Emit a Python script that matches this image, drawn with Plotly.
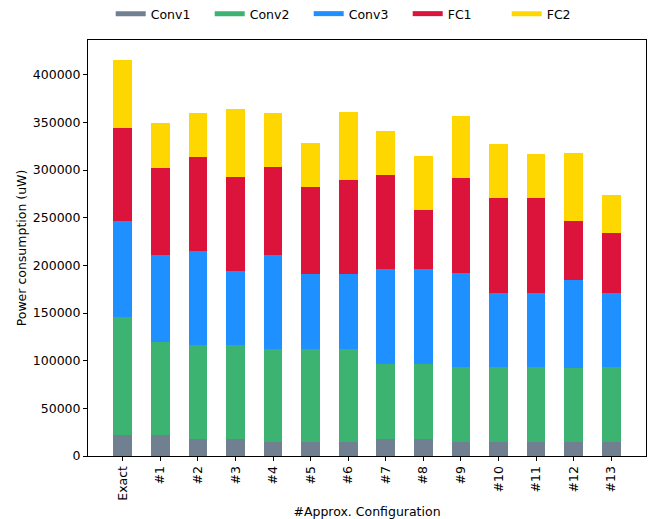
import plotly.graph_objects as go

# configurations on the x axis
configs = ['Exact', '#1', '#2', '#3', '#4', '#5', '#6',
           '#7', '#8', '#9', '#10', '#11', '#12', '#13']

# per-layer power (uW)
conv1 = [22000, 22000, 18000, 18000, 15000, 15000, 15000,
         18000, 18000, 15000, 15000, 15000, 15000, 15000]
conv2 = [124000, 98000, 98000, 98000, 97500, 97500, 97500,
         79000, 79000, 78500, 78500, 78500, 77500, 78500]
conv3 = [100000, 91300, 99300, 78300, 98600, 78600, 78600,
         99300, 99300, 98600, 77700, 77700, 92300, 77700]
fc1 = [98300, 91300, 98600, 98700, 92400, 91400, 98700,
       98700, 61900, 99700, 99600, 99600, 61900, 62900]
fc2 = [71300, 46200, 46200, 71300, 56600, 46100, 71400,
       46100, 56700, 65100, 56700, 46100, 71300, 39900]

layers = ['Conv1', 'Conv2', 'Conv3', 'FC1', 'FC2']
series = [conv1, conv2, conv3, fc1, fc2]

# matplotlib named colours
COLORS = {
    'Conv1': '#708090',
    'Conv2': '#3CB371',
    'Conv3': '#1E90FF',
    'FC1': '#DC143C',
    'FC2': '#FFD700',
}

FONT_SIZE = 12.5

fig = go.Figure()

for name, vals in zip(layers, series):
    fig.add_trace(go.Bar(
        x=configs, y=vals, name=name,
        marker=dict(color=COLORS[name], line=dict(width=0)),
        width=0.5, showlegend=False,
    ))

# legend entries drawn as thick lines, like the reference
for name in layers:
    fig.add_trace(go.Scatter(
        x=[None], y=[None], mode='lines', name=name,
        line=dict(color=COLORS[name], width=5),
    ))

totals = [sum(v) for v in zip(*series)]

fig.update_layout(
    barmode='stack',
    font=dict(family='DejaVu Sans', size=FONT_SIZE, color='black'),
    plot_bgcolor='white',
    paper_bgcolor='white',
    width=655,
    height=519,
    margin=dict(t=40, b=63, l=88, r=9),
    legend=dict(
        orientation='h',
        traceorder='normal',
        xref='container', yref='container',
        xanchor='left', x=0.169,
        yanchor='middle', y=0.973,
        font=dict(size=FONT_SIZE),
        itemwidth=30,
        entrywidth=54, entrywidthmode='pixels',
    ),
)

fig.update_xaxes(
    type='category',
    range=[-0.925, 13.925],
    tickangle=-90,
    automargin=False,
    title=dict(text='#Approx. Configuration', standoff=8, font=dict(size=FONT_SIZE)),
    showgrid=False,
    showline=True, linewidth=1, linecolor='black', mirror=True,
    ticks='outside', ticklen=4, tickwidth=1, tickcolor='black',
)
fig.update_yaxes(
    range=[0, max(totals) * 1.05],
    tickvals=list(range(0, 400001, 50000)),
    tickformat='d',
    automargin=False,
    title=dict(text='Power consumption (uW)', standoff=3, font=dict(size=FONT_SIZE)),
    showgrid=False, zeroline=False,
    showline=True, linewidth=1, linecolor='black', mirror=True,
    ticks='outside', ticklen=4, tickwidth=1, tickcolor='black',
)

# drop the browser's default 8px body margin so the figure sits at 0,0
fig.write_html('out.html', config={'displayModeBar': False},
               post_script="document.body.style.margin = '0';")
